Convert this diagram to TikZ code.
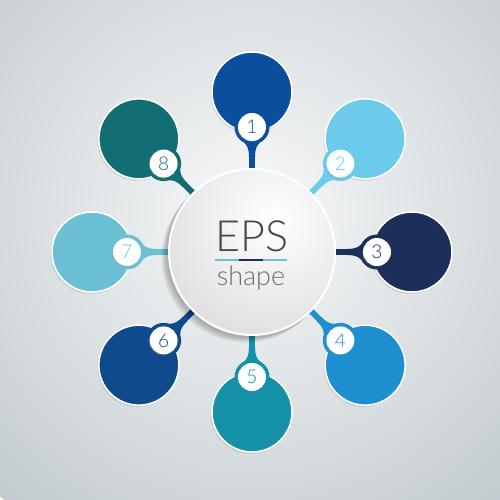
\documentclass[tikz,border=0pt]{standalone}
\usepackage{fontspec}
\newfontfamily\lightsans{Lato}[UprightFont={* Light}]
\usetikzlibrary{shadows}

\definecolor{tone1}{HTML}{0B4E9E}
\definecolor{tone2}{HTML}{6CCBEA}
\definecolor{tone3}{HTML}{1B2F58}
\definecolor{tone4}{HTML}{1E90CF}
\definecolor{tone5}{HTML}{1592A8}
\definecolor{tone6}{HTML}{0E4A8C}
\definecolor{tone7}{HTML}{6BC0D4}
\definecolor{tone8}{HTML}{136E73}
\definecolor{bgin}{HTML}{F8F9F9}
\definecolor{bgout}{HTML}{C3CBD0}
\definecolor{inkdark}{HTML}{474747}
\definecolor{inklight}{HTML}{6E6E6E}

\tikzset{
  petal/.style={circle, minimum size=80pt, inner sep=0pt, draw=white, line width=1.5pt,
    drop shadow={opacity=0.18, shadow xshift=-1.5pt, shadow yshift=-2pt}},
  badge/.style={circle, minimum size=28pt, inner sep=0pt, fill=white,
    font=\lightsans\fontsize{19}{19}\selectfont,
    drop shadow={opacity=0.2, shadow xshift=-1pt, shadow yshift=-1.5pt}},
  title/.style={anchor=base, inner sep=0pt, text=inkdark, font=\lightsans\fontsize{43}{43}\selectfont},
  subtitle/.style={anchor=base, inner sep=0pt, text=inklight, font=\lightsans\fontsize{27}{27}\selectfont}
}

\begin{document}
\begin{tikzpicture}[x=1pt,y=1pt]
  \useasboundingbox (-252,-248) rectangle (248,252);
  \begin{scope}
    \clip (-252,-248) rectangle (248,252);
    \shade[inner color=bgin, outer color=bgout] (0,40) circle (380);
  \end{scope}

  \coordinate (hub) at (0,0);

  % outer circles
  \foreach \k/\tone in {1/tone1,2/tone2,3/tone3,4/tone4,5/tone5,6/tone6,7/tone7,8/tone8} {
    \pgfmathsetmacro{\ang}{90-45*(\k-1)}
    \node[petal, fill=\tone] (c\k) at (\ang:160) {};
  }

  % stems and numbers
  \foreach \k/\tone in {1/tone1,2/tone2,3/tone3,4/tone4,5/tone5,6/tone6,7/tone7,8/tone8} {
    \pgfmathsetmacro{\ang}{90-45*(\k-1)}
    \coordinate (n\k) at (\ang:125);
    \draw[\tone, line width=6pt] (hub) -- (n\k);
    \fill[\tone, rotate=\ang] (95,-3) .. controls (105,-3) and (109,-6) .. (114,-13)
      -- (114,13) .. controls (109,6) and (105,3) .. (95,3) -- cycle;
    \fill[\tone] (n\k) circle (17.5);
    \node[badge, text=\tone] (b\k) at (n\k) {\k};
  }

  % central circle
  \foreach \i in {1,...,8}
    \fill[black, opacity=0.035] (-1-0.7*\i,-1-0.7*\i) circle (84);
  \begin{scope}
    \clip (hub) circle (83);
    \shade[inner color=white, outer color=black!13] (22,32) circle (130);
  \end{scope}
  \draw[white, line width=2pt] (hub) circle (83);

  \node[title] (eps) at (0,0) {EPS};
  \draw[tone7, line width=2.5pt] (-37,-8) -- (-13,-8);
  \draw[tone3, line width=2.5pt] (-13,-8) -- (11,-8);
  \draw[tone7, line width=2.5pt] (11,-8) -- (35,-8);
  \node[subtitle] (shp) at (-1,-34) {shape};
\end{tikzpicture}
\end{document}
